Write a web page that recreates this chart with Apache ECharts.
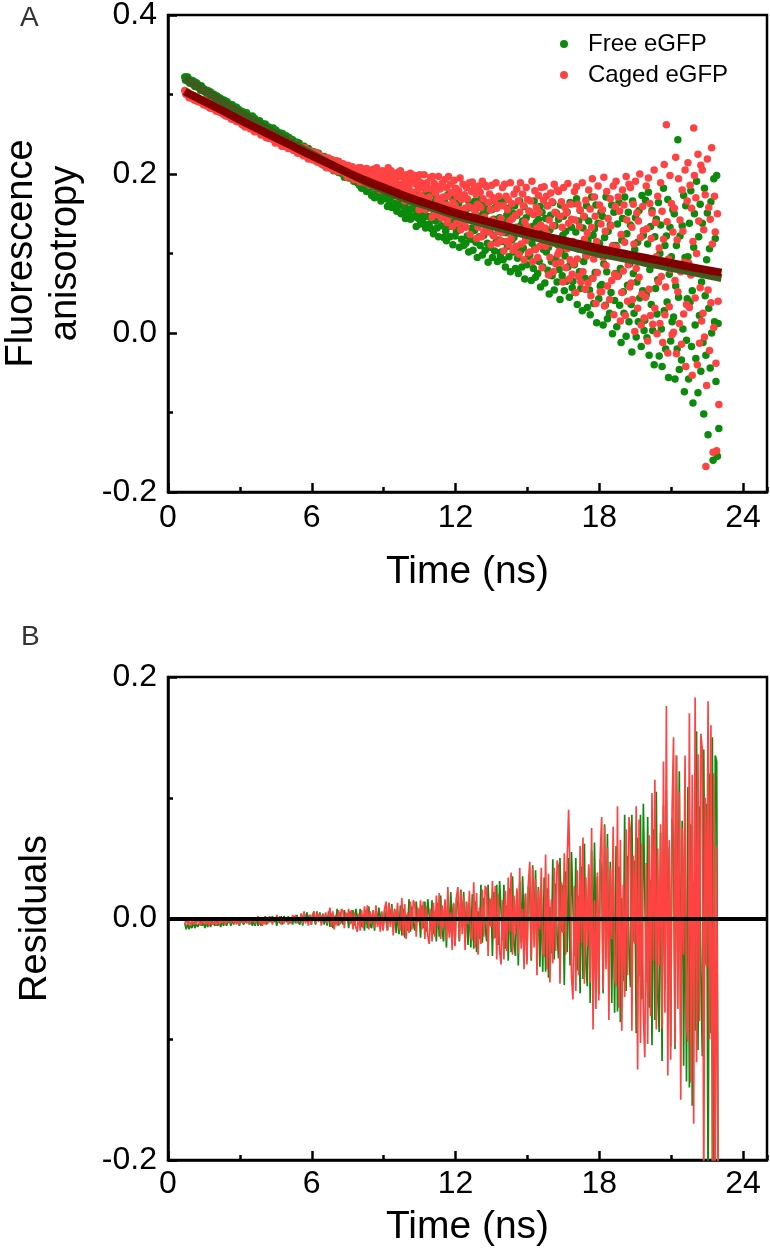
<!DOCTYPE html>
<html><head><meta charset="utf-8">
<script src="https://cdn.jsdelivr.net/npm/echarts@6.0.0/dist/echarts.min.js"></script>
<style>html,body{margin:0;padding:0;background:#fff}#c{width:770px;height:1250px}</style>
</head><body><div id="c"></div>
<script>
// Sampling grids of the measurement (ns)
const anisoTimeStart = 0.70, anisoTimeStep = 0.03;
const residTimeStart = 0.70, residTimeStep = 0.06;

// Panel A: anisotropy data, in units of 0.001 (one row = 0.6 ns)
const freeAnisoMilli = [
322,318,322,319,322,316,318,314,318,318,314,313,317,315,310,315,311,314,309,310,
311,308,305,311,307,305,307,307,303,304,305,301,305,301,303,298,303,299,301,297,
296,300,296,294,297,298,292,294,296,292,295,290,293,288,293,290,292,288,289,291,
285,287,288,283,282,285,287,282,284,280,284,280,284,277,280,281,277,279,277,279,
275,278,271,274,276,271,277,272,269,273,272,267,272,267,273,264,269,270,265,266,
266,261,266,263,267,260,262,257,263,263,259,257,263,259,254,259,256,259,253,255,
257,252,248,258,252,249,253,255,246,249,251,246,252,246,248,242,251,245,248,241,
241,248,242,238,244,246,236,241,243,237,243,235,239,232,240,235,240,233,235,239,
229,235,235,229,226,232,235,228,231,225,231,227,232,222,227,229,222,227,222,228,
221,227,217,222,223,217,226,219,214,222,220,214,222,215,222,210,218,220,212,214,
216,208,217,212,218,208,211,204,213,215,208,205,216,209,202,211,206,212,201,207,
210,202,196,211,203,199,204,208,195,200,204,195,206,197,201,191,206,195,201,191,
189,203,191,186,196,202,182,192,196,187,198,183,191,178,193,186,194,182,186,195,
173,187,190,175,170,184,194,177,185,171,187,176,191,166,179,186,170,181,172,187,
169,185,159,173,179,162,188,170,158,179,173,159,180,163,183,153,173,181,160,165,
171,150,175,162,181,153,163,144,170,175,156,150,180,165,143,170,156,174,146,161,
171,148,134,177,156,144,162,171,137,152,163,140,172,146,158,132,175,147,164,136,
137,175,146,131,161,177,125,152,165,141,170,132,153,121,161,144,166,135,146,170,
120,154,164,128,116,150,174,134,155,121,158,136,170,111,144,160,122,149,128,165,
129,163,108,138,152,118,172,134,110,154,144,113,156,122,167,102,145,162,118,132,
145,104,156,129,166,114,133,95,147,158,121,110,168,138,98,150,123,160,104,134,
153,113,89,164,128,108,140,155,95,123,143,103,158,114,134,90,165,117,145,97,
102,164,115,92,141,167,83,126,148,109,157,96,130,77,143,117,151,102,120,160,
81,133,148,94,75,128,166,103,136,83,141,107,159,68,121,145,86,129,96,153,
98,151,66,113,134,81,166,107,70,139,123,75,143,90,159,58,126,152,83,105,
126,63,144,102,160,79,108,49,130,148,90,72,164,118,54,135,93,151,64,111,
143,80,42,161,104,72,123,147,53,97,128,65,152,83,115,45,164,88,133,57,
65,163,86,51,127,169,36,106,141,77,154,56,112,28,132,90,146,69,97,160,
32,117,141,54,23,109,171,69,123,37,131,76,161,13,99,138,43,113,59,152,
61,147,10,87,120,35,171,77,18,128,102,25,136,51,161,-1,110,152,41,75,
110,8,137,72,164,35,81,-12,117,144,52,25,171,97,-4,125,60,152,14,87,
136,36,-24,166,75,25,105,145,-5,64,114,14,154,44,93,-17,173,53,123,3,
16,167,48,-6,112,177,-28,80,134,36,154,3,90,-40,121,56,143,24,67,164,
-29,100,136,5,-42,88,182,28,110,-20,122,39,168,-56,74,133,-10,96,14,155,
20,150,-58,59,110,-20,243,45,-46,122,83,-34,135,5,173,-74,95,160,-9,43,
96,-58,138,39,179,-17,53,-88,108,150,10,-32,191,79,-75,121,22,162,-48,64,
138,-12,-102,182,47,-28,92,151,-128,31,106,-44,165,0,75,-160,194,14,119,-61,
198,-155,12,-120
];
const cagedAnisoMilli = [
305,302,300,303,300,302,296,300,296,300,296,299,296,293,298,296,292,293,296,291,
295,292,293,290,293,291,287,293,288,291,286,289,286,290,287,283,283,287,285,282,
284,282,285,284,279,285,280,283,278,281,281,277,278,281,275,278,276,273,277,274,
274,272,275,272,274,269,272,274,269,269,272,270,266,268,266,270,267,268,264,267,
262,267,263,268,259,264,261,265,260,263,261,257,263,260,257,258,262,253,255,259,
260,256,253,258,254,256,249,254,250,255,250,253,250,246,253,251,245,247,251,245,
251,245,248,243,248,246,239,249,243,246,239,244,240,246,242,235,237,242,241,235,
238,236,242,240,232,242,234,239,232,236,238,230,233,238,230,234,232,226,235,229,
231,226,234,228,232,223,229,233,223,225,230,228,219,225,222,229,223,227,218,225,
218,225,220,227,215,221,217,224,215,220,217,212,221,218,213,215,220,208,212,218,
220,214,210,218,212,216,205,212,207,217,208,214,210,203,216,211,203,206,213,203,
213,204,208,201,210,206,196,211,202,207,197,205,200,209,203,193,196,204,201,193,
200,196,208,203,190,208,195,205,191,200,203,189,196,207,190,200,196,186,202,192,
198,188,206,193,203,183,198,208,186,190,203,198,180,193,186,204,191,199,181,195,
182,201,189,208,178,194,186,204,180,196,188,176,200,194,180,188,202,171,181,197,
204,187,178,199,184,195,166,189,173,199,178,194,185,166,201,190,169,177,198,172,
198,171,187,165,193,181,155,199,173,189,161,186,170,199,181,155,163,189,182,157,
171,160,196,181,146,197,161,188,153,176,185,149,168,197,154,181,169,145,188,161,
171,146,193,161,183,139,172,197,147,156,187,177,134,164,148,192,160,182,138,172,
138,179,155,195,130,168,151,187,140,174,157,133,183,169,142,159,189,124,144,178,
190,157,142,182,152,175,119,162,133,185,144,177,158,121,191,169,127,146,186,134,
184,136,164,127,175,155,111,186,142,170,122,166,137,189,157,113,128,172,160,116,
144,126,183,160,103,187,129,172,115,155,168,111,141,189,119,163,144,104,175,131,
148,109,181,132,166,99,152,189,112,127,175,160,92,140,116,183,134,168,101,153,
102,166,128,191,90,149,122,179,105,158,132,95,173,152,109,136,183,82,114,167,
184,132,109,172,125,160,73,142,95,176,113,165,135,77,187,152,87,116,180,99,
178,103,147,89,165,133,64,183,113,158,82,151,106,188,138,68,92,162,143,74,
115,87,178,142,51,184,93,162,71,134,155,64,112,189,77,147,118,55,167,97,
126,63,180,101,156,47,133,194,69,93,171,147,37,115,76,185,106,161,52,137,
52,155,95,196,34,128,85,178,59,144,101,42,169,135,66,109,185,23,74,159,
191,108,71,171,98,153,15,124,51,180,78,161,114,22,197,142,40,86,187,58,
183,63,133,42,162,112,2,191,81,151,31,141,70,200,120,10,49,159,129,19,
88,45,185,131,-10,195,55,163,22,119,151,11,86,205,31,139,96,-1,172,64,
107,12,189,71,153,-12,118,212,23,58,262,140,-25,93,33,198,80,163,-2,127,
1,157,66,221,-26,117,52,194,12,142,77,-14,180,128,24,89,205,-42,36,166,
214,88,32,186,73,157,-53,115,258,198,44,170,100,-40,225,141,-13,57,211,15,
205,25,130,-5,174,-168,-66,219,54,158,-22,143,38,233,112,-150,7,172,127,-38,
-148,150,40,-90
];

// Panel A: fitted decays
const fitTime  = [0.7,1,2,3,4,5,6,7,8,9,10,11,12,13,14,15,16,17,18,19,20,21,22,23.1];
const fitFree  = [0.321,0.315,0.296,0.277,0.259,0.242,0.225,0.209,0.194,0.180,0.168,0.158,0.148,0.139,0.131,0.123,0.115,0.107,0.100,0.094,0.088,0.082,0.076,0.069];
const fitCaged = [0.304,0.299,0.284,0.268,0.253,0.238,0.223,0.209,0.195,0.183,0.171,0.161,0.151,0.143,0.135,0.127,0.120,0.113,0.106,0.100,0.094,0.088,0.082,0.076];

// Panel B: residuals, in units of 0.001 (one row = 0.6 ns)
const freeResidMilli = [
-4,-9,-4,-9,-5,-8,-3,-8,-4,-7, -7,-2,-6,-3,-8,-3,-7,-2,-7,-2,
-1,-6,-2,-6,-3,-7,-2,-6,-1,-6, -5,-1,-6,-1,-5,0,-4,-1,-6,-1,
-1,-5,0,-4,0,-5,-1,-6,-2,-6, 1,-6,0,-6,-1,-4,2,-5,0,-3,
-4,2,-3,0,-6,1,-4,2,-5,2, 3,-3,2,-4,0,-5,2,-4,3,-3,
-5,4,-6,5,-3,5,-1,3,-5,4, 3,-5,6,-2,5,-4,4,-5,2,-6,
6,-7,4,-8,2,-5,8,-6,5,-2, -5,7,-2,4,-8,6,-4,7,-6,8,
9,-5,8,-7,3,-10,7,-8,10,-6, -8,6,-10,8,-5,9,-2,5,-9,7,
7,-10,13,-4,12,-9,8,-12,5,-13, 11,-14,8,-16,3,-10,16,-11,10,-5,
-10,14,-3,8,-16,11,-8,14,-11,16, 17,-10,15,-13,6,-19,13,-15,19,-11,
-19,14,-24,19,-12,22,-5,12,-22,17, 12,-19,24,-7,22,-17,14,-22,10,-24,
20,-25,14,-28,6,-17,28,-20,17,-8, -19,28,-6,16,-31,22,-16,28,-22,31,
32,-18,28,-25,11,-35,25,-28,35,-21, -31,23,-39,31,-20,35,-8,20,-35,27,
22,-35,44,-13,40,-31,26,-40,18,-44, 34,-44,25,-49,10,-29,49,-34,29,-15,
-33,50,-11,28,-55,39,-28,50,-39,55, 56,-31,50,-43,19,-62,43,-50,62,-37,
-56,42,-70,56,-35,63,-14,35,-63,49, 39,-62,78,-23,70,-55,47,-70,31,-78,
60,-77,43,-86,17,-52,86,-60,52,-26, -57,86,-19,48,-95,67,-48,86,-67,95,
95,-53,84,-74,32,-105,74,-84,105,-63, -94,71,-118,94,-59,106,-24,59,-106,83,
68,-108,135,-41,122,-95,81,-122,54,-135, 109,-140,78,-155,31,-93,155,-109,93,-47,
-114,140,-38,95,-240,120,-95,150,-233,135, 130,-230
];
const cagedResidMilli = [
-5,0,-5,-1,-6,-2,-5,-1,-5,0, -1,-6,-1,-4,0,-5,-1,-6,-1,-5,
-6,-2,-6,-1,-5,0,-4,0,-5,-1, -3,0,-4,1,-4,-1,-5,0,-5,0,
1,-4,1,-4,0,-5,0,-3,1,-4, -4,2,-5,1,-6,-1,-5,1,-4,2,
2,-5,1,-2,3,-3,2,-5,1,-4, -5,1,-5,1,-4,3,-2,3,-4,1,
-2,4,-4,6,-4,1,-6,3,-5,4, 6,-4,5,-3,4,-6,3,-1,5,-4,
-5,9,-7,6,-9,3,-6,7,-5,8, 6,-8,5,-2,8,-5,7,-9,5,-7,
-11,4,-10,7,-8,10,-3,11,-9,6, -3,7,-8,11,-7,2,-11,6,-10,8,
14,-10,13,-7,10,-14,7,-3,13,-8, -10,17,-14,12,-17,5,-12,14,-9,15,
12,-15,9,-3,15,-9,14,-17,10,-14, -21,8,-19,13,-15,19,-6,21,-17,11,
-8,16,-18,26,-16,5,-26,13,-23,18, 26,-18,23,-13,18,-26,13,-5,23,-16,
-18,30,-24,21,-30,9,-21,24,-15,27, 24,-31,17,-7,31,-17,27,-34,20,-27,
-38,15,-34,23,-27,34,-11,38,-30,19, -13,25,-29,42,-25,8,-42,21,-38,29,
47,-33,42,-24,33,-47,24,-9,42,-28, -32,53,-42,37,-53,16,-37,42,-27,48,
42,-54,30,-12,54,-30,48,90,36,-48, -67,27,-60,40,-47,60,-20,67,-54,34,
-23,45,-53,75,-92,15,-75,38,-68,53, 84,-59,76,-42,59,-84,42,-17,76,-50,
-56,93,-74,65,-93,28,-65,74,-47,84, 72,-93,52,-21,93,-125,82,-103,62,-82,
-115,46,-104,69,-81,104,-35,115,-92,58, -39,78,-91,130,-78,176,-130,65,-117,91,
150,-105,135,-75,105,-150,75,-30,135,-90, -102,170,-136,119,-170,183,-119,136,-85,153,
140,-230,100,-40,180,-100,160,-250,120,-220, 60,-230
];

const seriesNames = ['Free eGFP', 'Caged eGFP'];
const panelLabels = ['A', 'B'];

const pairs = (arr, t0, dt) => arr.map((v, i) => [+(t0 + i * dt).toFixed(2), v / 1000]);
const fitPairs = arr => arr.map((v, i) => [fitTime[i], v]);

const FONT = "'Liberation Sans', Arial, Helvetica, sans-serif";
const GREEN = '#0b8a0b', RED = '#ff4343', DKGREEN = '#3d5c1e', DKRED = '#800000';

function xMain(gi, gap, margin) {
  return {
    gridIndex: gi, type: 'value', min: 0, max: 25, interval: 6, position: 'bottom',
    axisLine: { show: true, onZero: false, lineStyle: { color: '#000', width: 2.5 } },
    axisTick: { show: true, inside: true, length: 9, lineStyle: { color: '#000', width: 2.5 } },
    axisLabel: { fontSize: 32, color: '#000', margin: margin, fontFamily: FONT, showMaxLabel: false },
    splitLine: { show: false },
    name: 'Time (ns)', nameLocation: 'middle', nameGap: gap,
    nameTextStyle: { fontSize: 39, color: '#000', fontFamily: FONT }
  };
}
function xMinor(gi) {
  return {
    gridIndex: gi, type: 'value', min: 0, max: 25, interval: 3, position: 'bottom',
    axisLine: { show: false, onZero: false },
    axisTick: { show: true, inside: true, length: 5, lineStyle: { color: '#000', width: 2.5 } },
    axisLabel: { show: false }, splitLine: { show: false }
  };
}
function yAx(gi, min, max, name, gap, lh) {
  return {
    gridIndex: gi, type: 'value', min: min, max: max, interval: 0.2,
    axisLine: { show: true, onZero: false, lineStyle: { color: '#000', width: 2.5 } },
    axisTick: { show: true, inside: true, length: 9, lineStyle: { color: '#000', width: 2.5 } },
    minorTick: { show: true, splitNumber: 2, length: 5, lineStyle: { color: '#000', width: 2.5 } },
    splitLine: { show: false }, minorSplitLine: { show: false },
    axisLabel: { fontSize: 32, color: '#000', margin: 11, fontFamily: FONT, formatter: v => v.toFixed(1) },
    name: name, nameLocation: 'middle', nameGap: gap,
    nameTextStyle: { fontSize: 38, color: '#000', fontFamily: FONT, lineHeight: lh }
  };
}

const chart = echarts.init(document.getElementById('c'), null, { renderer: 'canvas' });
chart.setOption({
  animation: false,
  backgroundColor: '#fff',
  textStyle: { fontFamily: FONT },
  grid: [
    { left: 168, top: 15, width: 599, height: 477, show: true, borderColor: '#000', borderWidth: 2.5, outerBoundsMode: 'none', containLabel: false },
    { left: 168, top: 677, width: 599, height: 483, show: true, borderColor: '#000', borderWidth: 2.5, outerBoundsMode: 'none', containLabel: false }
  ],
  xAxis: [xMain(0, 61, 10), xMinor(0), xMain(1, 48, 8), xMinor(1)],
  yAxis: [
    yAx(0, -0.2, 0.4, 'Fluorescence\nanisotropy', 80, 44),
    yAx(1, -0.2, 0.2, 'Residuals', 112, 40)
  ],
  legend: {
    data: seriesNames, orient: 'vertical', left: 555, top: 27, icon: 'circle',
    itemWidth: 8, itemHeight: 8, itemGap: 7,
    textStyle: { fontSize: 24, color: '#000', fontFamily: FONT, padding: [0, 0, 0, 15] },
    selectedMode: false
  },
  graphic: [
    { type: 'text', left: 20, top: 4, style: { text: panelLabels[0], fontSize: 28, fill: '#333', fontFamily: FONT } },
    { type: 'text', left: 21, top: 623, style: { text: panelLabels[1], fontSize: 28, fill: '#333', fontFamily: FONT } }
  ],
  series: [
    { type: 'scatter', name: seriesNames[0], xAxisIndex: 0, yAxisIndex: 0,
      data: pairs(freeAnisoMilli, anisoTimeStart, anisoTimeStep),
      symbolSize: 7.5, itemStyle: { color: GREEN, opacity: 1 }, z: 2, emphasis: { disabled: true } },
    { type: 'scatter', name: seriesNames[1], xAxisIndex: 0, yAxisIndex: 0,
      data: pairs(cagedAnisoMilli, anisoTimeStart, anisoTimeStep),
      symbolSize: 7.5, itemStyle: { color: RED, opacity: 1 }, z: 3, emphasis: { disabled: true } },
    { type: 'line', name: 'fitFree', xAxisIndex: 0, yAxisIndex: 0, data: fitPairs(fitFree), smooth: true,
      showSymbol: false, lineStyle: { color: DKGREEN, width: 8 }, z: 4 },
    { type: 'line', name: 'fitCaged', xAxisIndex: 0, yAxisIndex: 0, data: fitPairs(fitCaged), smooth: true,
      showSymbol: false, lineStyle: { color: DKRED, width: 8 }, z: 5 },
    { type: 'line', name: 'zero', xAxisIndex: 2, yAxisIndex: 1, data: [], z: 1,
      markLine: { silent: true, symbol: 'none', label: { show: false },
        lineStyle: { color: '#000', width: 4, type: 'solid' }, data: [{ yAxis: 0 }] } },
    { type: 'line', name: 'resFree', xAxisIndex: 2, yAxisIndex: 1,
      data: pairs(freeResidMilli, residTimeStart, residTimeStep),
      showSymbol: false, lineStyle: { color: GREEN, width: 1.7 }, z: 2 },
    { type: 'line', name: 'resCaged', xAxisIndex: 2, yAxisIndex: 1,
      data: pairs(cagedResidMilli, residTimeStart, residTimeStep),
      showSymbol: false, lineStyle: { color: RED, width: 1.7 }, z: 3 }
  ]
});
</script></body></html>
